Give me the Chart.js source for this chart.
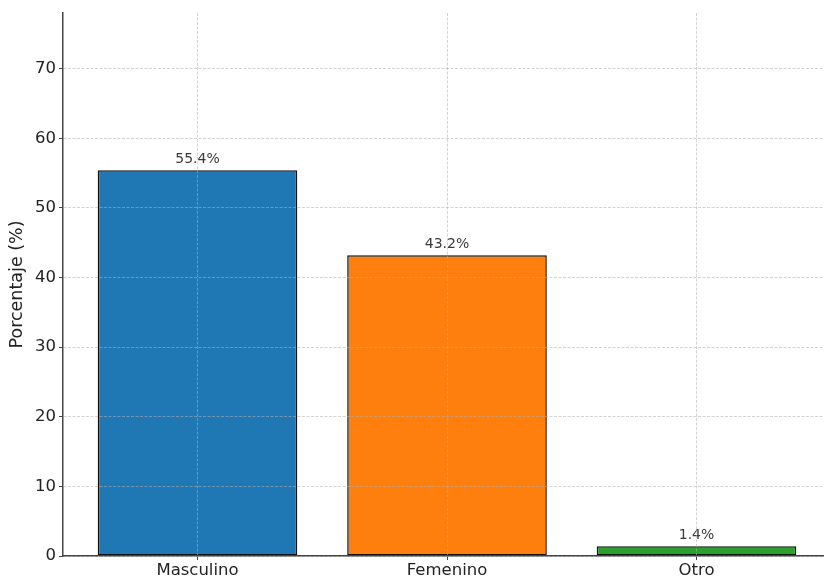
<!DOCTYPE html>
<html>
<head>
<meta charset="utf-8">
<script src="https://cdn.jsdelivr.net/npm/chart.js@4/dist/chart.umd.min.js"></script>
<style>
html,body{margin:0;padding:0;background:#fff;overflow:hidden;}
#wrap{width:840px;height:577px;}
</style>
</head>
<body>
<div id="wrap"><canvas id="c" width="840" height="577"></canvas></div>
<script>
const categories = ["Masculino", "Femenino", "Otro"];
const values = [55.4, 43.2, 1.4];
const barColors = ["#1f77b4", "#ff7f0e", "#2ca02c"];
const yTicks = [0, 10, 20, 30, 40, 50, 60, 70];

const valueLabels = {
  id: 'valueLabels',
  afterDatasetsDraw(chart) {
    const ctx = chart.ctx;
    const meta = chart.getDatasetMeta(0);
    ctx.save();
    ctx.font = '14px "DejaVu Sans"';
    ctx.fillStyle = '#3a3a3a';
    ctx.textAlign = 'center';
    ctx.textBaseline = 'bottom';
    meta.data.forEach((el, i) => {
      ctx.fillText(values[i].toFixed(1) + '%', el.x, el.y - 4);
    });
    ctx.restore();
  }
};

const gridOpts = {
  offset: false,
  z: 1,
  color: 'rgba(176,176,176,0.7)',
  lineWidth: 0.8,
  tickBorderDash: [],
  tickColor: '#444',
  tickLength: 4,
  tickWidth: 1
};
const borderOpts = {display: true, color: '#444', width: 1.5, dash: [3, 1.5], z: 2};

new Chart(document.getElementById('c'), {
  type: 'bar',
  data: {
    datasets: [{
      data: categories.map((c, i) => ({x: i, y: values[i]})),
      backgroundColor: barColors,
      borderColor: '#111',
      borderWidth: 1.5,
      borderSkipped: false,
      barPercentage: 0.8,
      categoryPercentage: 1.0
    }]
  },
  options: {
    responsive: false,
    animation: false,
    layout: {padding: {top: 13, right: 9, bottom: 0, left: 0}},
    plugins: {legend: {display: false}, tooltip: {enabled: false}},
    scales: {
      x: {
        type: 'linear',
        offset: false,
        min: -0.539,
        max: 2.539,
        afterBuildTicks(scale) { scale.ticks = categories.map((c, i) => ({value: i})); },
        afterFit(scale) { scale.height = 21; },
        ticks: {
          callback: (v) => categories[v] !== undefined ? categories[v] : '',
          font: {family: 'DejaVu Sans', size: 16.5},
          color: '#222',
          padding: 1,
          maxRotation: 0,
          autoSkip: false
        },
        grid: gridOpts,
        border: borderOpts
      },
      y: {
        type: 'linear',
        min: 0,
        max: 78,
        afterBuildTicks(scale) { scale.ticks = yTicks.map(v => ({value: v})); },
        afterFit(scale) { scale.width = 63; },
        ticks: {
          font: {family: 'DejaVu Sans', size: 16.5},
          color: '#222',
          padding: 3
        },
        grid: gridOpts,
        border: borderOpts,
        title: {
          display: true,
          text: 'Porcentaje (%)',
          font: {family: 'DejaVu Sans', size: 17.5},
          color: '#222',
          padding: {top: 7, bottom: 0}
        }
      }
    }
  },
  plugins: [valueLabels]
});
</script>
</body>
</html>
